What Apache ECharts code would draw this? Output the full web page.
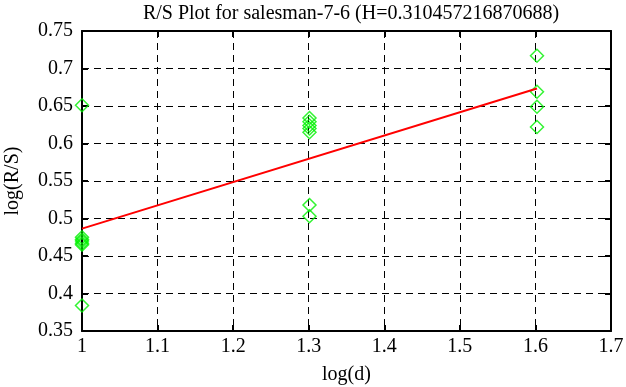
<!DOCTYPE html>
<html>
<head>
<meta charset="utf-8">
<script src="https://cdn.jsdelivr.net/npm/echarts@6/dist/echarts.min.js"></script>
<style>
html, body { margin: 0; padding: 0; background: #fff; }
#chart { width: 626px; height: 387px; }
</style>
</head>
<body>
<div id="chart"></div>
<script>
// points: [log(d), log(R/S)]
var pointsD10 = [[1, 0.651], [1, 0.475], [1, 0.472], [1, 0.470], [1, 0.467], [1, 0.465], [1, 0.384]];
var pointsD20 = [[1.30103, 0.634], [1.30103, 0.629], [1.30103, 0.624], [1.30103, 0.620], [1.30103, 0.615], [1.30103, 0.518], [1.30103, 0.503]];
var pointsD40 = [[1.60206, 0.717], [1.60206, 0.669], [1.60206, 0.649], [1.60206, 0.622]];
var fitLine = [[1, 0.4865], [1.60206, 0.6734]];

var font = 'Liberation Serif';
var fmt = function (v) { return String(+v.toFixed(2)); };

window.onload = function () {
    var axisX = function (pos, show) {
        return {
            type: 'value', position: pos, min: 1, max: 1.7, interval: 0.1,
            name: show ? 'log(d)' : '', nameLocation: 'middle', nameGap: 34,
            nameTextStyle: { color: '#000', fontFamily: font, fontSize: 20 },
            axisLine: { show: true, onZero: false, lineStyle: { color: '#000', width: 2 } },
            axisTick: { show: true, inside: true, length: 6, lineStyle: { color: '#000', width: 2 } },
            axisLabel: { show: show, color: '#000', fontFamily: font, fontSize: 20, margin: 6, formatter: fmt },
            splitLine: { show: show, lineStyle: { color: '#000', type: [7, 5], width: 1 } }
        };
    };
    var axisY = function (pos, show) {
        return {
            type: 'value', position: pos, min: 0.35, max: 0.75, interval: 0.05,
            name: show ? 'log(R/S)' : '', nameLocation: 'middle', nameGap: 59,
            nameTextStyle: { color: '#000', fontFamily: font, fontSize: 20 },
            axisLine: { show: true, onZero: false, lineStyle: { color: '#000', width: 2 } },
            axisTick: { show: true, inside: true, length: 6, lineStyle: { color: '#000', width: 2 } },
            axisLabel: { show: show, color: '#000', fontFamily: font, fontSize: 20, margin: 9, formatter: fmt },
            splitLine: { show: show, lineStyle: { color: '#000', type: [7, 5], width: 1 } }
        };
    };
    var dots = function (data) {
        return {
            type: 'scatter', data: data, symbol: 'diamond', symbolSize: 13,
            itemStyle: { color: 'none', borderColor: '#00f000', borderWidth: 1.5 },
            z: 3
        };
    };
    var option = {
        animation: false,
        title: {
            text: 'R/S Plot for salesman-7-6 (H=0.310457216870688)',
            left: 346, textAlign: 'center', top: -1,
            textStyle: { color: '#000', fontFamily: font, fontSize: 20, fontWeight: 'normal' }
        },
        grid: { left: 82, right: 15, top: 31, bottom: 56, containLabel: false, outerBoundsMode: 'none' },
        xAxis: [axisX('bottom', true), axisX('top', false)],
        yAxis: [axisY('left', true), axisY('right', false)],
        series: [
            dots(pointsD10), dots(pointsD20), dots(pointsD40),
            {
                type: 'line', data: fitLine, symbol: 'none',
                lineStyle: { color: '#ff0000', width: 2 }, z: 4
            }
        ]
    };
    var myChart = echarts.init(document.getElementById('chart'));
    myChart.setOption(option);
};
</script>
</body>
</html>
